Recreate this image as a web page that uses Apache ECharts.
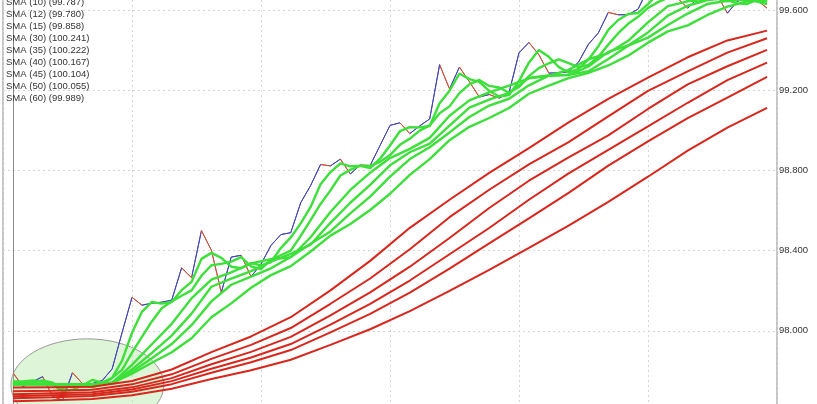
<!DOCTYPE html>
<html>
<head>
<meta charset="utf-8">
<script src="https://cdn.jsdelivr.net/npm/echarts@6/dist/echarts.min.js"></script>
<style>html,body{margin:0;padding:0;background:#fff;overflow:hidden}#c{position:absolute;left:0;top:-75px;width:817px;height:491px}</style>
</head>
<body>
<div id="c"></div>
<script>
// ---- data (weekly closes, index 0..76) ----
const price = [97.791,97.722,97.747,97.771,97.673,97.654,97.791,97.737,97.737,97.752,97.810,97.991,98.167,98.128,98.138,98.143,98.153,98.314,98.265,98.500,98.402,98.192,98.368,98.377,98.270,98.333,98.426,98.480,98.490,98.639,98.725,98.830,98.823,98.857,98.783,98.827,98.825,98.925,99.025,99.038,98.984,99.023,99.057,99.328,99.207,99.316,99.243,99.167,99.179,99.161,99.189,99.387,99.439,99.378,99.286,99.287,99.292,99.341,99.430,99.487,99.589,99.577,99.577,99.605,99.708,99.732,99.683,99.659,99.610,99.659,99.693,99.673,99.585,99.644,99.664,99.649,99.610];
const sma3 = [97.748,97.747,97.753,97.747,97.731,97.699,97.706,97.727,97.755,97.742,97.766,97.851,97.990,98.095,98.144,98.136,98.144,98.203,98.244,98.359,98.389,98.364,98.320,98.312,98.338,98.327,98.343,98.413,98.466,98.536,98.618,98.731,98.792,98.836,98.821,98.823,98.812,98.859,98.925,98.996,99.016,99.015,99.022,99.136,99.198,99.284,99.256,99.242,99.197,99.169,99.177,99.246,99.338,99.401,99.367,99.317,99.288,99.307,99.354,99.420,99.502,99.551,99.581,99.586,99.630,99.682,99.708,99.691,99.650,99.643,99.654,99.675,99.650,99.634,99.631,99.652,99.641];
const sma5 = [97.740,97.739,97.743,97.752,97.741,97.713,97.727,97.725,97.718,97.734,97.765,97.805,97.891,97.970,98.047,98.113,98.146,98.175,98.202,98.275,98.327,98.334,98.345,98.368,98.322,98.308,98.355,98.377,98.400,98.474,98.552,98.633,98.701,98.775,98.803,98.824,98.823,98.843,98.877,98.928,98.959,98.999,99.025,99.086,99.120,99.186,99.230,99.252,99.222,99.214,99.188,99.217,99.271,99.311,99.335,99.355,99.336,99.316,99.327,99.368,99.428,99.485,99.532,99.567,99.611,99.640,99.661,99.677,99.678,99.668,99.661,99.659,99.644,99.651,99.652,99.643,99.630];
// longer averages read every second week
const evenIdx = [0,2,4,6,8,10,12,14,16,18,20,22,24,26,28,30,32,34,36,38,40,42,44,46,48,50,52,54,56,58,60,62,64,66,68,70,72,74,76];
const sma8 = [97.735,97.737,97.735,97.734,97.729,97.740,97.830,97.933,98.035,98.162,98.255,98.292,98.336,98.358,98.367,98.467,98.593,98.703,98.789,98.862,98.908,98.963,99.073,99.150,99.190,99.224,99.260,99.273,99.302,99.355,99.386,99.447,99.539,99.620,99.644,99.668,99.662,99.648,99.647];
const sma10 = [97.733,97.735,97.734,97.733,97.735,97.739,97.808,97.890,97.976,98.086,98.220,98.260,98.298,98.345,98.384,98.430,98.539,98.639,98.728,98.826,98.891,98.934,99.024,99.114,99.154,99.187,99.262,99.274,99.276,99.319,99.392,99.424,99.489,99.573,99.622,99.650,99.661,99.660,99.645];
const sma12 = [97.733,97.733,97.733,97.732,97.733,97.743,97.796,97.863,97.934,98.028,98.147,98.230,98.271,98.312,98.368,98.434,98.496,98.586,98.670,98.769,98.857,98.916,98.990,99.067,99.124,99.158,99.225,99.273,99.277,99.295,99.356,99.423,99.463,99.526,99.583,99.631,99.647,99.660,99.655];
const sma15 = [97.732,97.733,97.732,97.731,97.733,97.739,97.786,97.841,97.893,97.963,98.068,98.137,98.215,98.278,98.323,98.396,98.475,98.533,98.603,98.684,98.778,98.857,98.951,99.018,99.062,99.112,99.183,99.223,99.261,99.287,99.324,99.373,99.438,99.494,99.524,99.576,99.618,99.644,99.650];
// long averages read every fourth week
const longIdx = [0,4,8,12,16,20,24,28,32,36,40,44,48,52,56,60,64,68,72,76];
const sma30 = [97.717,97.719,97.721,97.750,97.807,97.894,97.972,98.068,98.202,98.349,98.514,98.654,98.788,98.912,99.040,99.157,99.263,99.365,99.449,99.498];
const sma35 = [97.698,97.701,97.706,97.733,97.783,97.860,97.930,98.014,98.135,98.261,98.407,98.567,98.704,98.831,98.942,99.070,99.197,99.295,99.388,99.460];
const sma40 = [97.683,97.688,97.693,97.718,97.764,97.833,97.895,97.970,98.077,98.192,98.320,98.463,98.613,98.749,98.866,98.975,99.107,99.230,99.320,99.402];
const sma45 = [97.673,97.679,97.684,97.707,97.749,97.811,97.867,97.934,98.031,98.134,98.251,98.382,98.513,98.654,98.786,98.903,99.020,99.138,99.251,99.338];
const sma50 = [97.664,97.669,97.675,97.696,97.734,97.791,97.843,97.904,97.992,98.085,98.191,98.310,98.436,98.561,98.688,98.824,98.945,99.061,99.164,99.267];
const sma60 = [97.649,97.654,97.660,97.679,97.711,97.760,97.803,97.856,97.930,98.008,98.098,98.199,98.304,98.414,98.525,98.643,98.769,98.899,99.014,99.113];
const legendLabels = ['SMA (10) (99.787)','SMA (12) (99.780)','SMA (15) (99.858)','SMA (30) (100.241)','SMA (35) (100.222)','SMA (40) (100.167)','SMA (45) (100.104)','SMA (50) (100.055)','SMA (60) (99.989)'];
const yTicks = [97.6, 100.0, 0.4]; // min, max, step

const UP = '#4646b4', DOWN = '#c8503c', GREEN = '#3de03a', RED = '#d8261c';
const pair = (idx, vals) => vals.map((v, k) => [idx[k], v]);
const allIdx = price.map((_, i) => i);

const pieces = [];
for (let i = 0; i < price.length - 1; i++) {
  pieces.push({ gte: i, lt: i + 1, color: price[i + 1] >= price[i] ? UP : DOWN });
}

const greens = [
  ['SMA (3)', pair(allIdx, sma3)],
  ['SMA (5)', pair(allIdx, sma5)],
  ['SMA (8)', pair(evenIdx, sma8)],
  [legendLabels[0], pair(evenIdx, sma10)],
  [legendLabels[1], pair(evenIdx, sma12)],
  [legendLabels[2], pair(evenIdx, sma15)]
];
const reds = [
  [legendLabels[3], sma30], [legendLabels[4], sma35], [legendLabels[5], sma40],
  [legendLabels[6], sma45], [legendLabels[7], sma50], [legendLabels[8], sma60]
];

const series = [{
  name: 'Price', type: 'line', data: pair(allIdx, price), symbol: 'none',
  lineStyle: { width: 1 }, z: 2, animation: false
}];
greens.forEach(([n, d]) => series.push({
  name: n, type: 'line', data: d, symbol: 'none', z: 3, animation: false,
  lineStyle: { width: 2.4, color: GREEN }, itemStyle: { color: GREEN }
}));
reds.forEach(([n, d]) => series.push({
  name: n, type: 'line', data: pair(longIdx, d), symbol: 'none', z: 4, animation: false,
  lineStyle: { width: 2, color: RED }, itemStyle: { color: RED }
}));

const chart = echarts.init(document.getElementById('c'), null, { renderer: 'canvas' });
chart.setOption({
  animation: false,
  backgroundColor: '#fff',
  grid: { left: 3, right: 40, top: 0, bottom: 0, show: true, borderColor: '#8a8a8a', borderWidth: 1, backgroundColor: 'transparent' },
  legend: {
    data: legendLabels, orient: 'vertical', left: 1, top: 71, itemWidth: 0, itemHeight: 12, itemGap: 0,
    icon: 'none', selectedMode: false, padding: 0,
    textStyle: { fontFamily: 'Liberation Sans, Arial', fontSize: 9.5, color: '#333', lineHeight: 12, padding: 0 }
  },
  xAxis: {
    type: 'value', min: -1, max: 77, interval: 13,
    axisLine: { show: false }, axisTick: { show: false }, axisLabel: { show: false },
    splitLine: { show: true, lineStyle: { color: '#d6d6d6', type: [2, 3], width: 1 } }
  },
  yAxis: {
    type: 'value', position: 'right', min: yTicks[0], max: yTicks[1], interval: yTicks[2],
    axisLine: { show: true, lineStyle: { color: '#8a8a8a' } }, axisTick: { show: false },
    axisLabel: { margin: 2, formatter: v => v.toFixed(3), fontFamily: 'Liberation Sans, Arial', fontSize: 9.5, color: '#333' },
    splitLine: { show: true, lineStyle: { color: '#d6d6d6', type: [2, 3], width: 1 } }
  },
  visualMap: { show: false, type: 'piecewise', seriesIndex: 0, dimension: 0, pieces: pieces },
  series: series
});

// highlighted consolidation zone (annotation in data units)
const zone = { cx: 7.5, cy: 97.73, x0: -0.2, yTop: 97.96 };
const c = chart.convertToPixel({ gridIndex: 0 }, [zone.cx, zone.cy]);
const e = chart.convertToPixel({ gridIndex: 0 }, [zone.x0, zone.yTop]);
chart.setOption({
  graphic: [{
    type: 'ellipse', z: 1, silent: true,
    shape: { cx: c[0], cy: c[1], rx: c[0] - e[0], ry: c[1] - e[1] },
    style: { fill: 'rgba(160,230,140,0.35)', stroke: '#9a9a9a', lineWidth: 1 }
  }]
});
</script>
</body>
</html>
